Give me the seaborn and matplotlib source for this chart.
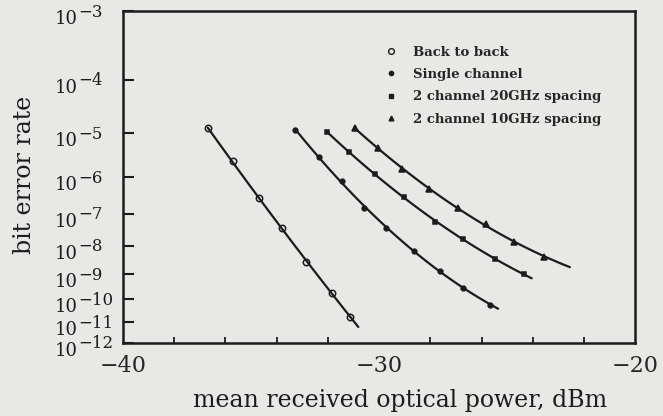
import numpy as np
import matplotlib
matplotlib.use("Agg")
import matplotlib.pyplot as plt
import matplotlib.transforms as mtransforms
from matplotlib.lines import Line2D
from matplotlib.ticker import FixedLocator, MultipleLocator, NullFormatter
import seaborn as sns

# data (power in dBm, bit error rate)
series_names = ["Back to back", "Single channel",
                "2 channel 20GHz spacing", "2 channel 10GHz spacing"]
b2b_power = [-36.69, -35.71, -34.69, -33.80, -32.84, -31.84, -31.14]
b2b_ber = [1.26e-5, 2.45e-6, 2.8e-7, 3.7e-8, 2.7e-9, 1.9e-10, 1.8e-11]
single_power = [-33.29, -32.34, -31.46, -30.58, -29.73, -28.62, -27.62, -26.72, -25.67]
single_ber = [1.2e-5, 3.1e-6, 7.8e-7, 1.5e-7, 3.7e-8, 6.9e-9, 1.3e-9, 3.0e-10, 6.0e-11]
ch20_power = [-32.05, -31.16, -30.16, -29.03, -27.83, -26.72, -25.48, -24.34]
ch20_ber = [1.07e-5, 3.9e-6, 1.2e-6, 3.0e-7, 5.9e-8, 1.7e-8, 3.5e-9, 1.0e-9]
ch10_power = [-30.94, -30.05, -29.11, -28.05, -26.91, -25.83, -24.72, -23.56]
ch10_ber = [1.3e-5, 4.9e-6, 1.55e-6, 4.8e-7, 1.5e-7, 4.9e-8, 1.35e-8, 4.3e-9]
# where each fitted curve stops
fit_end = [-30.81, -25.35, -24.04, -22.55]

ytick_exp = list(range(3, 13))
xtick_major = [-40, -30, -20]

sns.set_style("ticks")
plt.rcParams["font.family"] = ["DejaVu Serif"]

paper = "#e8e8e6"
ink = "#1c1c1c"


# usual BER paper scale: -log(-log(BER))
def fwd(b):
    b = np.clip(np.asarray(b, dtype=float), 1e-300, 0.999)
    return -np.log10(-np.log10(b))


def inv(v):
    return 10.0 ** (-(10.0 ** (-np.asarray(v, dtype=float))))


fig = plt.figure(figsize=(6.63, 4.16), dpi=100, facecolor=paper)
ax = fig.add_axes([0.1855, 0.1755, 0.7725, 0.798])
ax.set_facecolor(paper)
ax.set_yscale("function", functions=(fwd, inv))

all_power = [b2b_power, single_power, ch20_power, ch10_power]
all_ber = [b2b_ber, single_ber, ch20_ber, ch10_ber]
markers = ["o", "o", "s", "^"]
msizes = [4.6, 3.4, 3.4, 3.8]
faces = ["none", ink, ink, ink]

for p, b, end, m, ms, fc in zip(all_power, all_ber, fit_end, markers, msizes, faces):
    coef = np.polyfit(p, fwd(b), 2)
    xs = np.linspace(p[0], end, 80)
    sns.lineplot(x=xs, y=inv(np.polyval(coef, xs)), color=ink, lw=1.6, ax=ax)
    sns.lineplot(x=p, y=b, linestyle="none", marker=m, markersize=ms,
                 markerfacecolor=fc, markeredgecolor=ink, markeredgewidth=1.1,
                 color=ink, ax=ax)

ax.set_xlim(-40, -20)
ax.set_ylim(1e-12, 1e-3)

ax.xaxis.set_major_locator(FixedLocator(xtick_major))
ax.xaxis.set_minor_locator(MultipleLocator(2))
ax.set_xticklabels(["\u221240", "\u221230", "\u221220"])
ax.tick_params(axis="x", which="major", length=0, pad=9, labelsize=16)
ax.tick_params(axis="x", which="minor", direction="in", length=4, width=1.3, color=ink)

ax.yaxis.set_major_locator(FixedLocator([10.0 ** -k for k in ytick_exp]))
ax.yaxis.set_minor_locator(FixedLocator([]))
ax.yaxis.set_major_formatter(NullFormatter())
ax.tick_params(axis="y", direction="in", length=8, width=1.5, color=ink)

# typeset labels: "10" with a large, slightly raised exponent, left aligned
blend = mtransforms.blended_transform_factory(ax.transAxes, ax.transData)
base_tr = mtransforms.offset_copy(blend, fig=fig, x=0, y=-8, units="dots")
exp_tr = mtransforms.offset_copy(blend, fig=fig, x=0, y=-1, units="dots")
for k in ytick_exp:
    ax.text(-0.134, 10.0 ** -k, "10", transform=base_tr, ha="left", va="center",
            fontsize=13, color=ink, clip_on=False)
    ax.text(-0.087, 10.0 ** -k, "\u2212%d" % k, transform=exp_tr, ha="left",
            va="center", fontsize=12, color=ink, clip_on=False)

for s in ax.spines.values():
    s.set_visible(True)
    s.set_linewidth(1.8)
    s.set_color(ink)

ax.set_xlabel("mean received optical power, dBm", fontsize=17, color=ink)
ax.set_ylabel("bit error rate", fontsize=17, color=ink)
ax.xaxis.set_label_coords(0.541, -0.14)
ax.yaxis.set_label_coords(-0.170, 0.506)

handles = [Line2D([], [], linestyle="none", marker=m, markersize=ms * 0.9,
                  markerfacecolor=fc, markeredgecolor=ink, markeredgewidth=1.0)
           for m, ms, fc in zip(markers, msizes, faces)]
ax.legend(handles, series_names, loc="upper left", bbox_to_anchor=(0.513, 0.895),
          frameon=False, handlelength=0.8, handletextpad=1.3, labelspacing=0.7,
          borderpad=0, borderaxespad=0,
          prop=dict(family="DejaVu Serif", weight="bold", size=9.5))

fig.savefig("out.png", dpi=100, facecolor=paper)
